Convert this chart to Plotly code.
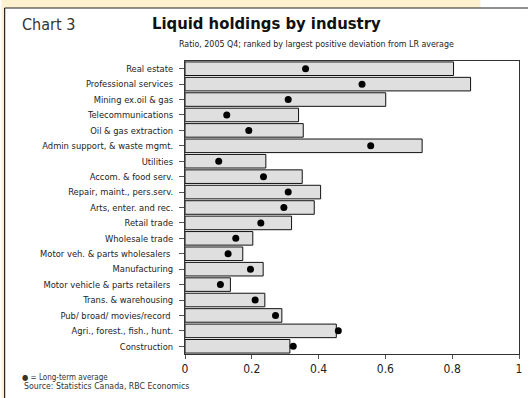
import plotly.graph_objects as go

# Industries, top to bottom
industries = [
    "Real estate", "Professional services", "Mining ex.oil & gas",
    "Telecommunications", "Oil & gas extraction", "Admin support, & waste mgmt.",
    "Utilities", "Accom. & food serv.", "Repair, maint., pers.serv.",
    "Arts, enter. and rec.", "Retail trade", "Wholesale trade",
    "Motor veh. & parts wholesalers ", "Manufacturing",
    "Motor vehicle & parts retailers ", "Trans. & warehousing",
    "Pub/ broad/ movies/record ", "Agri., forest., fish., hunt.", "Construction",
]
# Liquid holdings ratio, 2005 Q4
ratio_2005q4 = [0.804, 0.855, 0.601, 0.340, 0.354, 0.710, 0.242, 0.351, 0.406,
                0.387, 0.319, 0.203, 0.173, 0.234, 0.136, 0.239, 0.290, 0.453, 0.314]
# Long-term average
lr_average = [0.361, 0.530, 0.309, 0.125, 0.191, 0.556, 0.101, 0.235, 0.309,
              0.296, 0.227, 0.152, 0.129, 0.196, 0.106, 0.210, 0.271, 0.459, 0.324]
x_ticks = [0, 0.2, 0.4, 0.6, 0.8, 1]
x_tick_text = ["0", "0.2", "0.4", "0.6", "0.8", "1"]

W, H = 531, 398
L, R, T, B = 185, 9, 61, 44
pw, ph = W - L - R, H - T - B


def px(x):
    return (x - L) / pw


def py(y):
    return (H - B - y) / ph


COND = "Liberation Sans Narrow, DejaVu Sans Condensed, Arial Narrow, sans-serif"

fig = go.Figure()
fig.add_trace(go.Bar(
    y=industries, x=ratio_2005q4, orientation="h",
    marker=dict(color="#dfdfdf", line=dict(color="#111111", width=1)),
    width=0.88, showlegend=False, hoverinfo="x+y",
))
fig.add_trace(go.Scatter(
    y=industries, x=lr_average, mode="markers",
    marker=dict(color="#000000", size=7),
    showlegend=False,
))

shapes = [
    # pale band across the top and down the left edge
    dict(type="rect", xref="paper", yref="paper", x0=px(0), x1=px(483),
         y0=py(8), y1=py(0), fillcolor="#fdf1cf", line=dict(width=0), layer="below"),
    dict(type="rect", xref="paper", yref="paper", x0=px(0), x1=px(3),
         y0=py(398), y1=py(0), fillcolor="#fdf1cf", line=dict(width=0), layer="below"),
    # frame lines
    dict(type="line", xref="paper", yref="paper", x0=px(3), x1=px(531),
         y0=py(8), y1=py(8), line=dict(color="#222222", width=1.2)),
    dict(type="line", xref="paper", yref="paper", x0=px(3), x1=px(3),
         y0=py(8), y1=py(398), line=dict(color="#222222", width=1.2)),
]

annotations = [
    dict(text="Chart 3", x=px(19), y=py(25), xref="paper", yref="paper",
         xanchor="left", yanchor="middle", showarrow=False,
         font=dict(family=COND, size=16, color="#333333")),
    dict(text="<b>Liquid holdings by industry</b>", x=px(267), y=py(24),
         xref="paper", yref="paper", xanchor="center", yanchor="middle",
         showarrow=False, font=dict(family=COND, size=16.5, color="#111111")),
    dict(text="Ratio, 2005 Q4; ranked by largest positive deviation from LR average",
         x=px(318), y=py(44), xref="paper", yref="paper", xanchor="center",
         yanchor="middle", showarrow=False,
         font=dict(family=COND, size=8.8, color="#222222")),
    dict(text="\u25cf = Long-term average", x=px(19), y=py(377), xref="paper",
         yref="paper", xanchor="left", yanchor="middle", showarrow=False,
         font=dict(family=COND, size=8, color="#333333")),
    dict(text="Source: Statistics Canada, RBC Economics", x=px(21), y=py(386),
         xref="paper", yref="paper", xanchor="left", yanchor="middle",
         showarrow=False, font=dict(family=COND, size=8.7, color="#333333")),
]

fig.update_layout(
    width=W, height=H,
    margin=dict(l=L, r=R, t=T, b=B, pad=0),
    paper_bgcolor="white", plot_bgcolor="white",
    shapes=shapes, annotations=annotations,
    xaxis=dict(range=[0, 1], tickvals=x_ticks, ticktext=x_tick_text,
               showgrid=False, zeroline=False, showline=True, linecolor="#333333",
               linewidth=1, mirror=True, ticks="outside", ticklen=4,
               tickcolor="#555555",
               tickfont=dict(family=COND, size=12, color="#222222")),
    yaxis=dict(range=[len(industries) - 0.5, -0.5], showgrid=False, zeroline=False,
               showline=True, linecolor="#333333", linewidth=1, mirror=True,
               ticks="outside", ticklen=5, tickcolor="#555555",
               ticklabelstandoff=4,
               tickfont=dict(family=COND, size=9.3, color="#222222")),
)

fig.write_html("out.html")
